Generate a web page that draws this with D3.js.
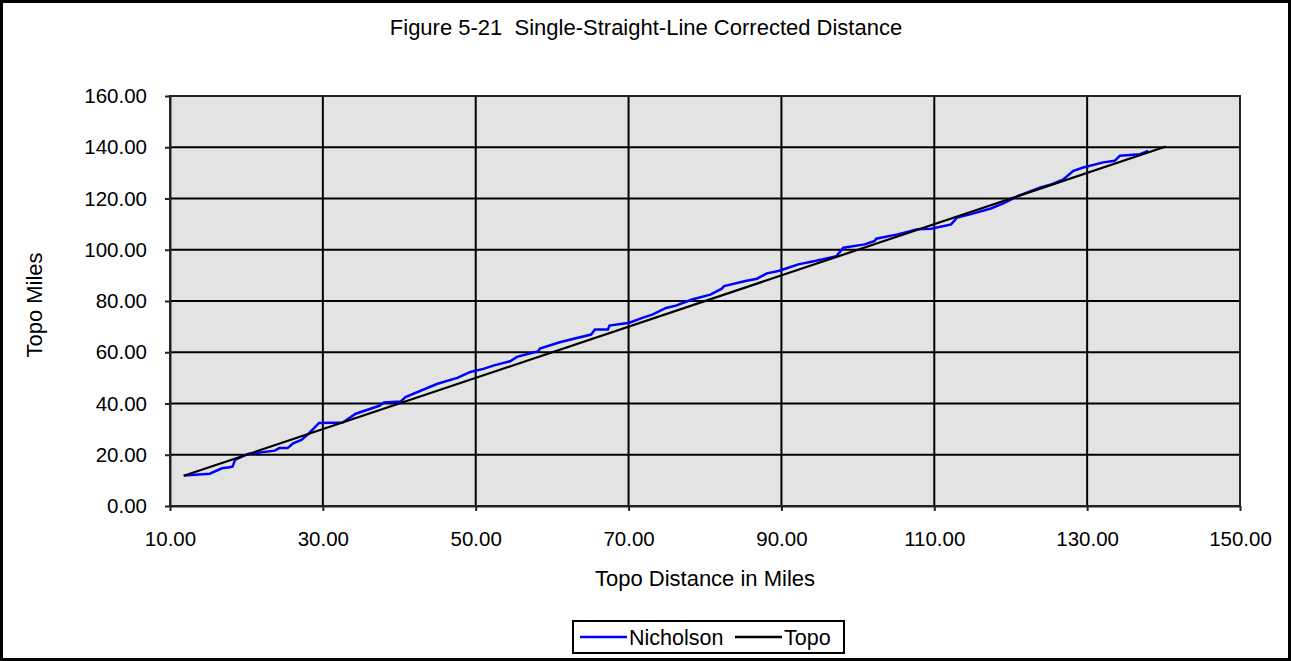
<!DOCTYPE html>
<meta charset="utf-8">
<html>
<script src="https://d3js.org/d3.v7.min.js"></script>
<style>
  body { margin: 0; background: #fff; }
  text { font-family: "Liberation Sans", Arial, sans-serif; fill: #000; }
</style>
<div id="chart"></div>
<script>

// Topo distance (x) and Nicholson corrected miles (y)
var nicholsonX = [11.8, 15.2, 16.8, 17.8, 18.2, 18.5, 20.2, 23.7, 24.3, 25.4, 26.1, 27.2, 28.2, 29.5, 32.6,
  34.3, 37.4, 38.0, 40.2, 40.8, 45.0, 47.6, 49.3, 51.0, 52.3, 54.5, 55.4, 58.2, 58.4, 61.0,
  62.7, 65.1, 65.6, 67.3, 67.5, 70.1, 71.8, 73.1, 74.9, 76.2, 78.3, 80.7, 82.2, 82.5, 85.3,
  86.8, 88.1, 89.6, 90.5, 92.2, 94.4, 97.2, 98.1, 100.9, 102.2, 102.4, 105.2, 107.8, 109.6, 112.2,
  113.0, 114.8, 117.4, 119.1, 121.0, 123.9, 125.4, 126.9, 128.2, 129.5, 132.1, 133.6, 134.3, 136.9, 138.0];
var nicholsonY = [11.9, 12.6, 14.7, 15.1, 15.4, 18.0, 20.3, 21.6, 22.6, 22.6, 24.5, 25.8, 28.4, 32.4, 32.6,
  36.0, 39.1, 40.4, 40.8, 42.5, 47.7, 50.0, 52.3, 53.5, 54.8, 56.5, 58.2, 60.4, 61.4, 63.9,
  65.2, 66.9, 68.9, 68.9, 70.4, 71.5, 73.4, 74.7, 77.3, 78.2, 80.6, 82.5, 84.8, 85.8, 87.8,
  88.7, 90.8, 91.7, 92.6, 94.3, 95.6, 97.5, 100.8, 102.1, 103.4, 104.3, 106.0, 108.0, 108.2, 109.9,
  112.6, 113.9, 116.1, 118.2, 121.0, 124.3, 125.6, 127.5, 130.8, 132.1, 134.1, 134.7, 136.7, 137.3, 138.6];
var topoX = [11.8, 140.3];
var topoY = [11.8, 140.3];

var xTicks = [10, 30, 50, 70, 90, 110, 130, 150];
var yTicks = [0, 20, 40, 60, 80, 100, 120, 140, 160];

var width = 1291,
    height = 661;
var margin = {top: 96, right: 51, bottom: 155, left: 170};

var svg = d3.select("#chart").append("svg")
    .attr("width", width)
    .attr("height", height);

// outer frame
svg.append("rect")
    .attr("x", 1.5).attr("y", 1.5)
    .attr("width", width - 3).attr("height", height - 3)
    .attr("fill", "#fff")
    .attr("stroke", "#000")
    .attr("stroke-width", 3);

svg.append("text")
    .attr("x", 646)
    .attr("y", 35)
    .attr("text-anchor", "middle")
    .style("font-size", "22px")
    .style("white-space", "pre")
    .text("Figure 5-21  Single-Straight-Line Corrected Distance");

var x = d3.scaleLinear().domain([10, 150]).range([margin.left, width - margin.right]);
var y = d3.scaleLinear().domain([0, 160]).range([height - margin.bottom, margin.top]);

// plot area
svg.append("rect")
    .attr("x", x(10)).attr("y", y(160))
    .attr("width", x(150) - x(10)).attr("height", y(0) - y(160))
    .attr("fill", "#e3e3e3");

// gridlines
svg.append("g").selectAll("line").data(yTicks.slice(1)).enter().append("line")
    .attr("x1", x(10)).attr("x2", x(150))
    .attr("y1", function(d) { return y(d); }).attr("y2", function(d) { return y(d); })
    .attr("stroke", "#000").attr("stroke-width", 2);
svg.append("g").selectAll("line").data(xTicks.slice(1)).enter().append("line")
    .attr("y1", y(0)).attr("y2", y(160))
    .attr("x1", function(d) { return x(d); }).attr("x2", function(d) { return x(d); })
    .attr("stroke", "#000").attr("stroke-width", 2);

svg.append("rect")
    .attr("x", x(10)).attr("y", y(160))
    .attr("width", x(150) - x(10)).attr("height", y(0) - y(160))
    .attr("fill", "none")
    .attr("stroke", "#222")
    .attr("stroke-width", 2);

// axes
var xAxis = svg.append("g")
    .attr("transform", "translate(0," + y(0) + ")")
    .call(d3.axisBottom(x).tickValues(xTicks).tickSize(5).tickSizeOuter(0).tickPadding(20)
      .tickFormat(d3.format(".2f")));
var yAxis = svg.append("g")
    .attr("transform", "translate(" + x(10) + ",0)")
    .call(d3.axisLeft(y).tickValues(yTicks).tickSize(5).tickSizeOuter(0).tickPadding(18)
      .tickFormat(d3.format(".2f")));
[xAxis, yAxis].forEach(function(a) {
  a.select(".domain").attr("stroke", "#222").attr("stroke-width", 2);
  a.selectAll(".tick line").attr("stroke", "#222").attr("stroke-width", 2);
  a.selectAll(".tick text").style("font-size", "20.5px").attr("font-family", null);
});

svg.append("text")
    .attr("x", (x(10) + x(150)) / 2)
    .attr("y", 586)
    .attr("text-anchor", "middle")
    .style("font-size", "22px")
    .text("Topo Distance in Miles");

svg.append("text")
    .attr("transform", "translate(42," + ((y(0) + y(160)) / 2 + 4) + ") rotate(-90)")
    .attr("text-anchor", "middle")
    .style("font-size", "22px")
    .text("Topo Miles");

// series
var line = d3.line()
    .x(function(d) { return x(d[0]); })
    .y(function(d) { return y(d[1]); });

svg.append("path")
    .datum(d3.zip(nicholsonX, nicholsonY))
    .attr("d", line)
    .attr("fill", "none")
    .attr("stroke", "#0000ff")
    .attr("stroke-width", 2.5);

svg.append("path")
    .datum(d3.zip(topoX, topoY))
    .attr("d", line)
    .attr("fill", "none")
    .attr("stroke", "#000")
    .attr("stroke-width", 2.2);

// legend
var legend = svg.append("g").attr("transform", "translate(573,621)");
legend.append("rect")
    .attr("width", 271).attr("height", 32)
    .attr("fill", "#fff").attr("stroke", "#000").attr("stroke-width", 2);
var items = [{name: "Nicholson", color: "#0000ff", x: 7}, {name: "Topo", color: "#000", x: 162}];
items.forEach(function(d) {
  legend.append("line")
      .attr("x1", d.x).attr("x2", d.x + 47)
      .attr("y1", 16).attr("y2", 16)
      .attr("stroke", d.color).attr("stroke-width", 2.5);
  legend.append("text")
      .attr("x", d.x + 49).attr("y", 24)
      .style("font-size", "21.5px")
      .text(d.name);
});
</script>
</html>
